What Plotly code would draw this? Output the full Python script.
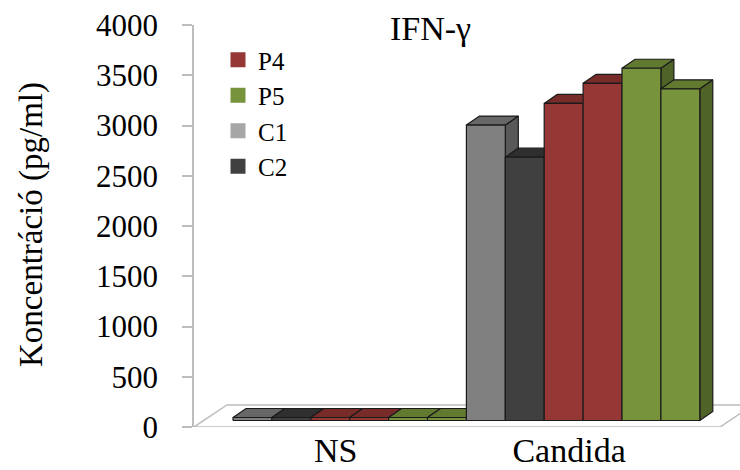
import plotly.graph_objects as go

# ---- data -------------------------------------------------------------
groups = ["NS", "Candida"]
series = ["C1", "C2", "P4", "P4", "P5", "P5"]
ns_values = [30, 30, 30, 30, 30, 30]
candida_values = [2940, 2620, 3155, 3355, 3505, 3300]
legend_names = ["P4", "P5", "C1", "C2"]
y_ticks = [0, 500, 1000, 1500, 2000, 2500, 3000, 3500, 4000]

# face colours per series: (front, top, side)
palette = {
    "C1": ("#808080", "#676767", "#585858"),
    "C2": ("#404040", "#2f2f2f", "#2b2b2b"),
    "P4": ("#953735", "#772c2a", "#6a2725"),
    "P5": ("#77933c", "#617a30", "#4f6228"),
}
legend_colors = {"P4": "#953735", "P5": "#77933c", "C1": "#a6a6a6", "C2": "#404040"}

# ---- geometry ---------------------------------------------------------
W, H = 740, 470
ML, MR, MT, MB = 194, 0, 25, 43
PW, PH = W - ML - MR, H - MT - MB
Y_MAX = 4000


def uy(px):
    """vertical pixel distance -> value units"""
    return px * Y_MAX / PH


FONT = "Liberation Serif"
BAR_W = 38.9          # width of one column
BAR_START = 39        # left edge of the first column (front plane)
DEPTH_DX, DEPTH_DY = 13, uy(9)      # column depth
FLOOR_DX, FLOOR_DY = 33, uy(22)     # floor depth
FRONT_DY = uy(6.5)    # columns stand half-way into the floor
FLOOR_LEN = 526
EDGE = "#1a1a1a"
GRID = "#bdbdbd"

fig = go.Figure()

# floor parallelogram
fig.add_trace(go.Scatter(
    x=[0, FLOOR_LEN, FLOOR_LEN + FLOOR_DX, FLOOR_DX, 0],
    y=[0, 0, FLOOR_DY, FLOOR_DY, 0],
    mode="lines", fill="toself", fillcolor="white",
    line=dict(color=GRID, width=1.5), hoverinfo="skip", showlegend=False,
))


def poly(xs, ys, color):
    fig.add_trace(go.Scatter(
        x=xs + [xs[0]], y=ys + [ys[0]], mode="lines", fill="toself",
        fillcolor=color, line=dict(color=EDGE, width=1.2),
        hoverinfo="skip", showlegend=False,
    ))


all_values = [ns_values, candida_values]
for g, vals in enumerate(all_values):
    for k, (name, v) in enumerate(zip(series, vals)):
        front, top, side = palette[name]
        x0 = BAR_START + (g * len(series) + k) * BAR_W
        x1 = x0 + BAR_W
        yb, yt = FRONT_DY, FRONT_DY + v
        poly([x1, x1 + DEPTH_DX, x1 + DEPTH_DX, x1],
             [yb, yb + DEPTH_DY, yt + DEPTH_DY, yt], side)
        poly([x0, x1, x1 + DEPTH_DX, x0 + DEPTH_DX],
             [yt, yt, yt + DEPTH_DY, yt + DEPTH_DY], top)
        poly([x0, x1, x1, x0], [yb, yb, yt, yt], front)

# legend entries
for name in legend_names:
    fig.add_trace(go.Scatter(
        x=[None], y=[None], mode="markers", name=name,
        marker=dict(symbol="square", size=15, color=legend_colors[name]),
    ))

cat_centers = [BAR_START + (g * len(series) + len(series) / 2) * BAR_W - 14
               for g in range(len(groups))]

fig.update_layout(
    width=W, height=H,
    margin=dict(l=ML, r=MR, t=MT, b=MB, pad=0, autoexpand=False),
    paper_bgcolor="white", plot_bgcolor="white",
    font=dict(family=FONT, color="black"),
    showlegend=True,
    legend=dict(x=(218 - ML) / PW, y=(H - MB - 37) / PH, xanchor="left", yanchor="top",
                font=dict(size=25, family=FONT), bgcolor="rgba(0,0,0,0)",
                borderwidth=0, tracegroupgap=0, itemwidth=30),
    xaxis=dict(range=[0, PW], tickvals=cat_centers, ticktext=groups,
               showgrid=False, zeroline=False, showline=False, ticks="",
               tickfont=dict(size=34, family=FONT), ticklabelstandoff=0,
               automargin=False, fixedrange=True),
    yaxis=dict(range=[0, Y_MAX], tickvals=y_ticks, showgrid=False, zeroline=False,
               showline=True, linecolor=GRID, linewidth=1.5,
               ticks="outside", ticklen=10, tickcolor=GRID, tickwidth=1.5,
               tickfont=dict(size=31, family=FONT), ticklabelstandoff=18,
               automargin=False, fixedrange=True),
    annotations=[
        dict(text="Koncentráció (pg/ml)", textangle=-90, xref="paper", yref="paper",
             x=(32 - ML) / PW, y=(H - MB - 225) / PH, xanchor="center", yanchor="middle",
             showarrow=False, font=dict(size=33, family=FONT)),
        dict(text="IFN-γ", xref="paper", yref="paper",
             x=(430 - ML) / PW, y=(H - MB - 29) / PH, xanchor="center", yanchor="middle",
             showarrow=False, font=dict(size=34, family=FONT)),
    ],
)

fig.write_html("out.html")
